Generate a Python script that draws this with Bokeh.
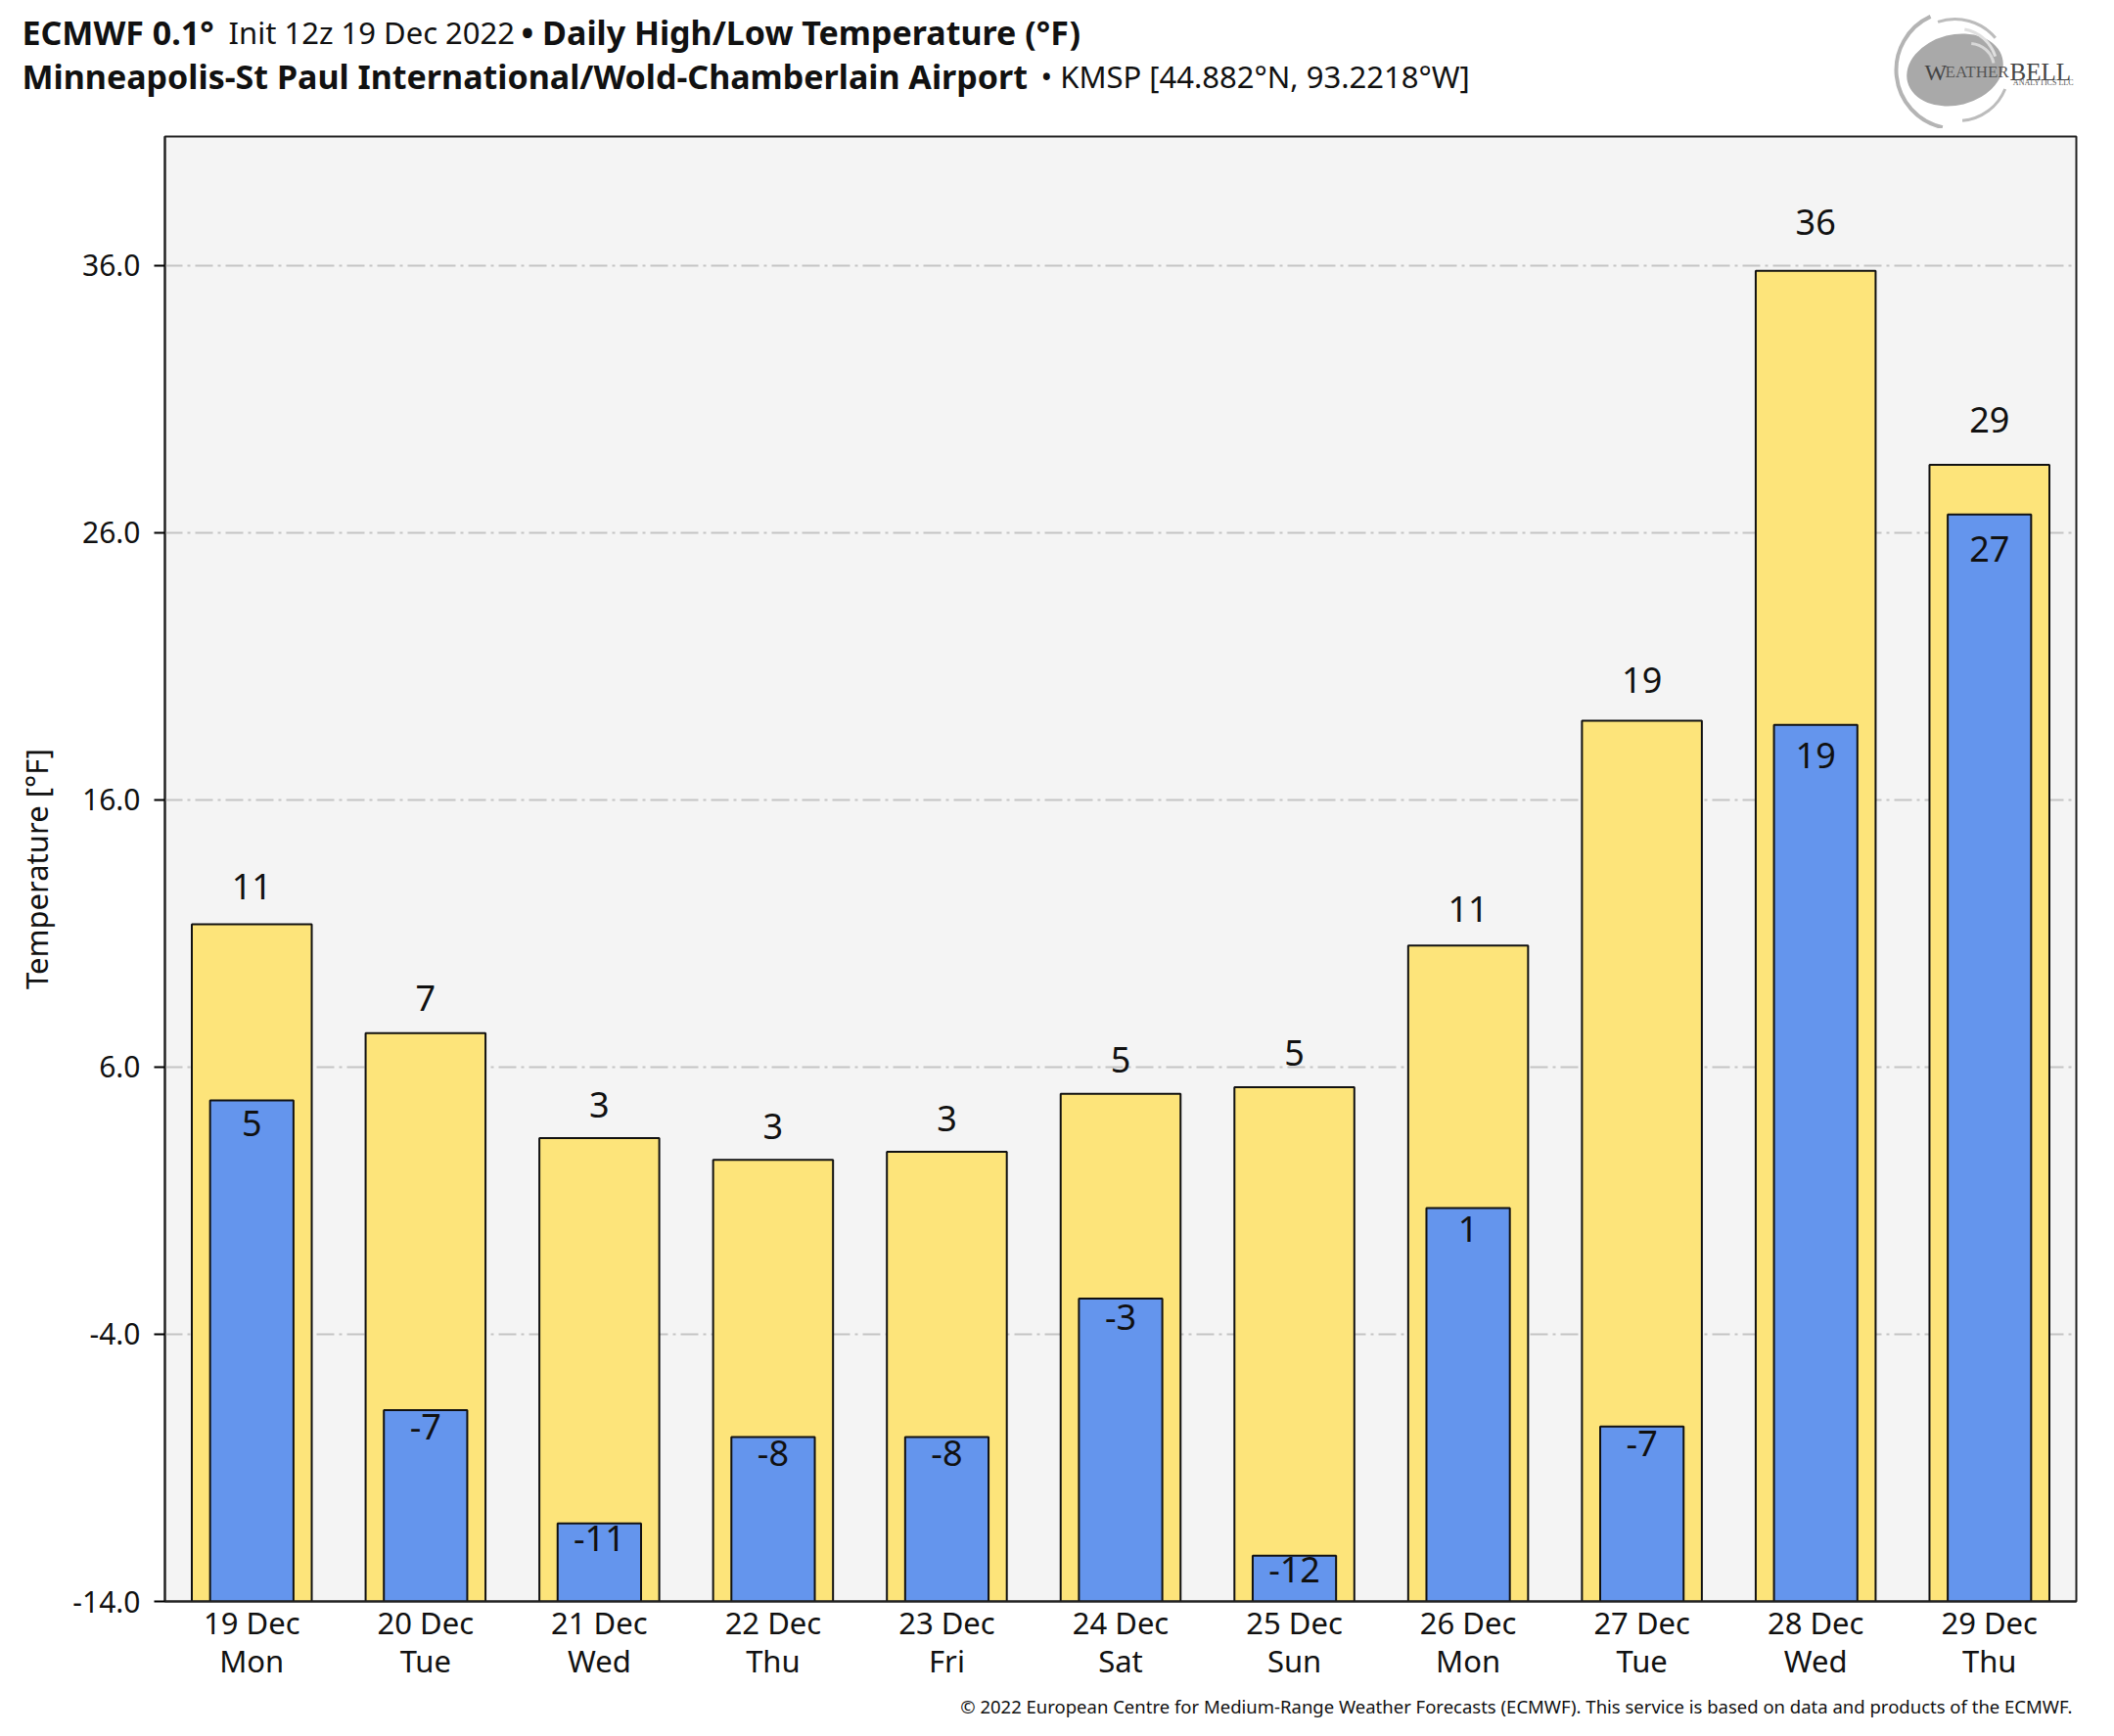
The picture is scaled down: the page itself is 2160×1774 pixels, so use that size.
import numpy as np
from bokeh.plotting import figure
from bokeh.models import ColumnDataSource, FactorRange, Range1d, FixedTicker, PrintfTickFormatter
from bokeh.layouts import column
from bokeh.core.properties import value
from bokeh.embed import file_html
from bokeh.resources import INLINE

# ---------------- data ----------------
dates = ["19 Dec", "20 Dec", "21 Dec", "22 Dec", "23 Dec", "24 Dec",
         "25 Dec", "26 Dec", "27 Dec", "28 Dec", "29 Dec"]
weekdays = ["Mon", "Tue", "Wed", "Thu", "Fri", "Sat",
            "Sun", "Mon", "Tue", "Wed", "Thu"]
highs = [11.35, 7.27, 3.34, 2.53, 2.83, 5.0, 5.25, 10.55, 18.96, 35.8, 28.54]
lows = [4.75, -6.84, -11.08, -7.85, -7.85, -2.66, -12.29, 0.72, -7.45, 18.81, 26.68]
y_ticks = [-14.0, -4.0, 6.0, 16.0, 26.0, 36.0]
y_min, y_max = -14.0, 40.83

title1_bold_a = "ECMWF 0.1°"
title1_reg = "Init 12z 19 Dec 2022"
title1_bold_b = "• Daily High/Low Temperature (°F)"
title2_bold = "Minneapolis-St Paul International/Wold-Chamberlain Airport"
title2_reg = "• KMSP [44.882°N, 93.2218°W]"
footer_text = ("© 2022 European Centre for Medium-Range Weather Forecasts (ECMWF). "
               "This service is based on data and products of the ECMWF.")

FONT = "Noto Sans"
W = 2144
LEFT, RIGHT = 168, 2121          # frame edges on the page
HIGH_COLOR = "#fde47a"
LOW_COLOR = "#6495ed"

factors = [f"{d}\n{w}" for d, w in zip(dates, weekdays)]
hi_arr = np.array(highs)
lo_arr = np.array(lows)
src = ColumnDataSource(dict(
    x=factors, hi=highs, lo=lows,
    hi_lbl=[str(int(round(v))) for v in highs],
    lo_lbl=[str(int(round(v))) for v in lows],
    hi_ly=hi_arr + 1.19 + 0.018 * hi_arr,
    lo_ly=lo_arr - 0.77 - 0.02 * lo_arr,
))

def no_align(fig):
    try:
        fig.frame_align = False
    except Exception:
        pass

def blank(height):
    fig = figure(width=W, height=height, x_range=Range1d(0, W), y_range=Range1d(0, height),
                 output_backend="svg", toolbar_location=None, min_border=0,
                 x_axis_location=None, y_axis_location=None)
    fig.outline_line_color = None
    fig.grid.visible = False
    fig.background_fill_color = "white"
    fig.border_fill_color = "white"
    no_align(fig)
    return fig

def seg(fig, x, y, text, style, size, font=FONT, align="left", baseline="middle", color="#111111"):
    fig.text(x=[x], y=[y], text=[text], text_font=value(font), text_font_style=style,
             text_font_size=size, text_align=align, text_baseline=baseline, text_color=color)

# ---------------- header (canvas 0..131) ----------------
HH = 131
h = blank(HH)
seg(h, 22, 99, title1_bold_a, "bold", "34px")
seg(h, 233, 99, title1_reg, "normal", "31px")
seg(h, 532, 99, title1_bold_b, "bold", "34px")
seg(h, 22, 54, title2_bold, "bold", "34px")
seg(h, 1063, 54, title2_reg, "normal", "31px")

# logo (WeatherBELL)
h.ellipse(x=[1997], y=[60], width=[100], height=[72], angle=[0.25],
          fill_color="#a9a9a9", line_color=None)
h.arc(x=[2012], y=[62], radius=[25], start_angle=[0.2], end_angle=[1.5],
      line_color="#d8d8d8", line_width=3)
h.arc(x=[2000], y=[62], radius=[40], start_angle=[0.3], end_angle=[1.4],
      line_color="#e0e0e0", line_width=3)
h.arc(x=[1997], y=[60], radius=[60], start_angle=[2.0], end_angle=[4.5],
      line_color="#b4b4b4", line_width=4)
h.arc(x=[1997], y=[58], radius=[54], start_angle=[0.7], end_angle=[1.9],
      line_color="#bcbcbc", line_width=3)
h.arc(x=[2000], y=[60], radius=[52], start_angle=[4.8], end_angle=[5.9],
      line_color="#bcbcbc", line_width=3)
seg(h, 1966, 58, "W", "normal", "24px", font="Liberation Serif", baseline="alphabetic", color="#444444")
seg(h, 1987, 58, "EATHER", "normal", "17px", font="Liberation Serif", baseline="alphabetic", color="#555555")
seg(h, 2053, 58, "BELL", "normal", "25px", font="Liberation Serif", baseline="alphabetic", color="#444444")
seg(h, 2118, 47, "ANALYTICS LLC", "normal", "8px", font="Liberation Serif", align="right",
    baseline="alphabetic", color="#555555")

# ---------------- main chart (canvas 131..1722) ----------------
p = figure(width=W, height=1591,
           x_range=FactorRange(*factors, range_padding=0),
           y_range=Range1d(y_min, y_max),
           output_backend="svg", toolbar_location=None,
           min_border_left=LEFT, min_border_right=W - RIGHT,
           min_border_top=8, min_border_bottom=86)
no_align(p)

p.background_fill_color = "#f4f4f4"
p.border_fill_color = "white"
p.outline_line_color = "#222222"
p.outline_line_width = 2

p.vbar(x="x", top="hi", bottom=y_min, width=0.69, source=src,
       fill_color=HIGH_COLOR, line_color="#111111", line_width=2)
p.vbar(x="x", top="lo", bottom=y_min, width=0.48, source=src,
       fill_color=LOW_COLOR, line_color="#111111", line_width=2)

p.text(x="x", y="hi_ly", text="hi_lbl", source=src, text_align="center",
       text_baseline="middle", text_font=value(FONT),
       text_font_size="36px", text_color="#111111")
p.text(x="x", y="lo_ly", text="lo_lbl", source=src, text_align="center",
       text_baseline="middle", text_font=value(FONT),
       text_font_size="36px", text_color="#111111")

p.xgrid.grid_line_color = None
p.ygrid.ticker = FixedTicker(ticks=y_ticks)
p.ygrid.grid_line_color = "#c4c4c4"
p.ygrid.grid_line_width = 2
p.ygrid.grid_line_dash = "18 5 3 5"

ya = p.yaxis[0]
ya.ticker = FixedTicker(ticks=y_ticks)
ya.formatter = PrintfTickFormatter(format="%.1f")
ya.major_tick_out = 11
ya.major_tick_in = 0
ya.minor_tick_line_color = None
ya.major_tick_line_width = 2
ya.axis_line_width = 2
ya.axis_line_color = "#222222"
ya.major_label_standoff = 14
ya.major_label_text_font = FONT
ya.major_label_text_font_size = "30px"
ya.major_label_text_color = "#111111"
ya.axis_label = "Temperature [°F]"
ya.axis_label_text_font = FONT
ya.axis_label_text_font_style = "normal"
ya.axis_label_text_font_size = "31px"
ya.axis_label_text_color = "#111111"
ya.axis_label_standoff = 13

xa = p.xaxis[0]
xa.major_tick_line_color = None
xa.minor_tick_line_color = None
xa.major_tick_out = 0
xa.major_tick_in = 0
xa.axis_line_width = 2
xa.axis_line_color = "#222222"
xa.major_label_standoff = 0
xa.major_label_text_font = FONT
xa.major_label_text_font_size = "31px"
xa.major_label_text_line_height = 0.95
xa.major_label_text_color = "#111111"

# ---------------- footer (canvas 1722..1774) ----------------
FH = 52
f = blank(FH)
seg(f, 2117, 31, footer_text, "normal", "18.5px", align="right")

layout = column(h, p, f, spacing=0)
open("out.html", "w").write(file_html(layout, INLINE))
